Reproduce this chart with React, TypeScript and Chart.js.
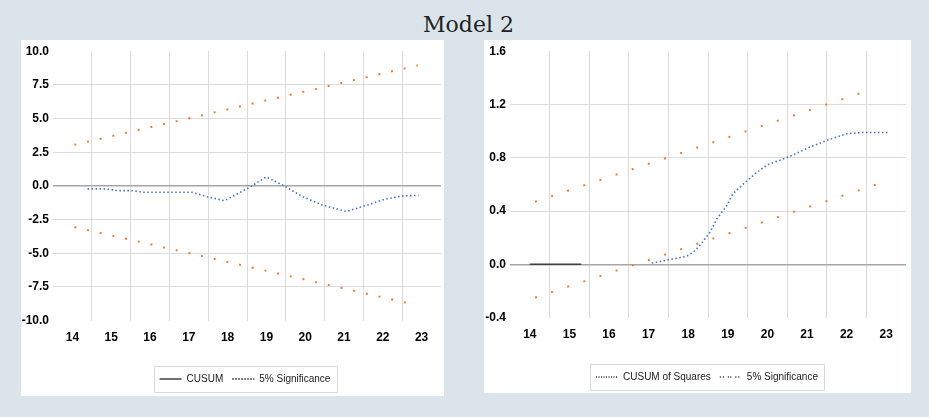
import React, { useEffect, useRef } from "react";
import { Chart, registerables } from "chart.js";

Chart.register(...registerables);

// ---------- Data ----------
// Left panel: CUSUM
const cusumX = [14.39, 14.88, 15.16, 15.52, 15.83, 16.68, 17.07, 17.5, 17.92, 18.54, 19.0, 19.46, 19.9, 20.42, 21.06, 21.63, 22.04, 22.48, 22.92];
const cusumY = [-0.22, -0.22, -0.35, -0.35, -0.47, -0.47, -0.47, -0.82, -1.1, -0.15, 0.67, 0.0, -0.75, -1.4, -1.9, -1.4, -1.0, -0.75, -0.7];
const cusumUpperX = [14.05, 22.9];
const cusumUpperY = [3.05, 8.95];
const cusumLowerX = [14.05, 22.8];
const cusumLowerY = [-3.05, -8.8];

// Right panel: CUSUM of Squares
const sqX = [14.0, 15.3, 16.2, 17.08, 17.6, 17.96, 18.12, 18.29, 18.55, 18.72, 18.97, 19.13, 19.38, 19.73, 20.01, 20.31, 20.64, 21.07, 21.5, 22.0, 22.41, 23.04];
const sqY = [0, 0, null, 0.01, 0.04, 0.06, 0.09, 0.14, 0.24, 0.34, 0.44, 0.53, 0.6, 0.69, 0.75, 0.78, 0.82, 0.88, 0.93, 0.98, 0.99, 0.99];
const sqUpperX = [14.13, 22.6];
const sqUpperY = [0.47, 1.31];
const sqLowerX = [14.13, 22.96];
const sqLowerY = [-0.25, 0.62];

// Axis setup
const xMin = 13.5;
const xMax = 23.5;
const leftYTicks = { min: -10, max: 10, step: 2.5 };
const rightYTicks = { min: -0.4, max: 1.6, step: 0.4 };

const leftLegend = ["CUSUM", "5% Significance"];
const rightLegend = ["CUSUM of Squares", "5% Significance"];
const title = "Model 2";

// ---------- Styles ----------
const BLUE = "#4472C4";
const ORANGE = "#ED7D31";
const tickFont = { family: "'Liberation Sans', Arial, sans-serif", weight: "bold" as const, size: 12 };
const legendFont = { family: "'Liberation Sans', Arial, sans-serif", size: 10 };

const zip = (xs: number[], ys: (number | null)[]) => xs.map((x, i) => ({ x, y: ys[i] }));

const legendBoxPlugin = {
  id: "legendBox",
  afterUpdate(chart: any, _args: any, opts: any) {
    const lg = chart.legend;
    const dy = (opts && opts.dy) || 0;
    const dx = (opts && opts.dx) || 0;
    if (!lg) return;
    lg.top += dy;
    lg.bottom += dy;
    lg.left += dx;
    lg.right += dx;
    (lg.legendHitBoxes || []).forEach((h: any) => {
      h.top += dy;
      h.left += dx;
    });
  },
  afterDraw(chart: any) {
    const lg = chart.legend;
    if (!lg || !lg.legendHitBoxes || !lg.legendHitBoxes.length) return;
    let l = Infinity, r = -Infinity, t = Infinity, b = -Infinity;
    lg.legendHitBoxes.forEach((h: any) => {
      l = Math.min(l, h.left);
      r = Math.max(r, h.left + h.width);
      t = Math.min(t, h.top);
      b = Math.max(b, h.top + h.height);
    });
    const ctx = chart.ctx;
    ctx.save();
    ctx.strokeStyle = "#d9d9d9";
    ctx.lineWidth = 1;
    ctx.beginPath();
    ctx.rect(Math.round(l - 6) + 0.5, Math.round(t - 8) + 0.5, Math.round(r - l + 12), Math.round(b - t + 16));
    ctx.stroke();
    ctx.restore();
  },
};

function makeOptions(
  yCfg: { min: number; max: number; step: number },
  yWidth: number,
  padRight: number,
  legendDx: number,
  legendDy: number,
  legendItems: any[]
) {
  return {
    responsive: false,
    animation: false as const,
    layout: { padding: { top: 5, right: padRight, left: 0, bottom: 12 } },
    plugins: {
      legend: {
        position: "bottom" as const,
        labels: {
          usePointStyle: true,
          pointStyleWidth: 22,
          font: legendFont,
          color: "#222",
          padding: 9,
          generateLabels: () => legendItems,
        },
      },
      legendBox: { dx: legendDx, dy: legendDy },
      tooltip: { enabled: false },
    },
    elements: { point: { radius: 0 } },
    scales: {
      x: {
        type: "linear" as const,
        min: xMin,
        max: xMax,
        afterFit: (s: any) => {
          s.paddingLeft = 0;
          s.paddingRight = 0;
        },
        ticks: {
          stepSize: 0.5,
          autoSkip: false,
          maxRotation: 0,
          font: tickFont,
          color: "#000",
          padding: 10,
          callback: (v: any) => (Number.isInteger(v) ? String(v) : ""),
        },
        grid: {
          drawTicks: false,
          color: (ctx: any) => {
            const v = ctx.tick ? ctx.tick.value : null;
            if (v == null || Number.isInteger(v) || v <= xMin || v >= xMax) return "rgba(0,0,0,0)";
            return "#dcdcdc";
          },
        },
        border: { display: false },
      },
      y: {
        type: "linear" as const,
        min: yCfg.min,
        max: yCfg.max,
        afterFit: (s: any) => {
          s.width = yWidth;
        },
        ticks: {
          stepSize: yCfg.step,
          font: tickFont,
          color: "#000",
          padding: 4,
          callback: (v: any) => Number(v).toFixed(1),
        },
        grid: {
          drawTicks: false,
          color: (ctx: any) => {
            const v = ctx.tick ? ctx.tick.value : null;
            if (v == null) return "rgba(0,0,0,0)";
            if (Math.abs(v) < 1e-9) return "#a6a6a6";
            if (Math.abs(v - yCfg.min) < 1e-9 || Math.abs(v - yCfg.max) < 1e-9) return "rgba(0,0,0,0)";
            return "#dcdcdc";
          },
          lineWidth: (ctx: any) => (ctx.tick && Math.abs(ctx.tick.value) < 1e-9 ? 1.5 : 1),
        },
        border: { display: false },
      },
    },
  };
}

function legendItem(text: string, dash: number[], idx: number) {
  return {
    text,
    fillStyle: "rgba(0,0,0,0)",
    strokeStyle: "#222",
    lineWidth: 1.3,
    lineDash: dash,
    pointStyle: "line",
    fontColor: "#222",
    hidden: false,
    datasetIndex: idx,
  };
}

function leftConfig(): any {
  return {
    type: "line",
    data: {
      datasets: [
        { label: leftLegend[0], data: zip(cusumX, cusumY), borderColor: BLUE, borderWidth: 1.6, borderDash: [1.5, 2.5], tension: 0 },
        { label: leftLegend[1], data: zip(cusumUpperX, cusumUpperY), borderColor: ORANGE, borderWidth: 2, borderDash: [2, 11] },
        { label: "lower", data: zip(cusumLowerX, cusumLowerY), borderColor: ORANGE, borderWidth: 2, borderDash: [2, 11] },
      ],
    },
    options: makeOptions(leftYTicks, 32, 3, 14, 10, [legendItem(leftLegend[0], [], 0), legendItem(leftLegend[1], [1.5, 1.5], 1)]),
    plugins: [legendBoxPlugin],
  };
}

function rightConfig(): any {
  return {
    type: "line",
    data: {
      datasets: [
        {
          label: rightLegend[0],
          data: zip(sqX, sqY),
          borderColor: BLUE,
          borderWidth: 1.6,
          borderDash: [1.5, 2.5],
          spanGaps: false,
          segment: {
            borderColor: (ctx: any) => (ctx.p1.parsed.x <= 15.35 ? "#404040" : undefined),
            borderDash: (ctx: any) => (ctx.p1.parsed.x <= 15.35 ? [] : undefined),
          },
        },
        { label: rightLegend[1], data: zip(sqUpperX, sqUpperY), borderColor: ORANGE, borderWidth: 2, borderDash: [2, 15] },
        { label: "lower", data: zip(sqLowerX, sqLowerY), borderColor: ORANGE, borderWidth: 2, borderDash: [2, 15] },
      ],
    },
    options: makeOptions(rightYTicks, 26, 5, 12, 11, [legendItem(rightLegend[0], [1, 1.5], 0), legendItem(rightLegend[1], [1, 2, 1, 4, 1, 1.5, 1, 4], 1)]),
    plugins: [legendBoxPlugin],
  };
}

function ChartPanel({ config, width, height }: { config: () => any; width: number; height: number }) {
  const ref = useRef<HTMLCanvasElement>(null);
  useEffect(() => {
    const chart = new Chart(ref.current as HTMLCanvasElement, config());
    return () => chart.destroy();
  }, []);
  return <canvas ref={ref} width={width} height={height} style={{ display: "block", width, height }} />;
}

export default function App() {
  return (
    <div style={{ position: "absolute", left: 0, top: 0, width: 929, height: 417, background: "#dbe4eb", overflow: "hidden" }}>
      <div
        style={{
          position: "absolute",
          left: 0,
          top: 12,
          width: 937,
          textAlign: "center",
          fontFamily: "'DejaVu Serif', serif",
          fontSize: 22,
          lineHeight: "26px",
          color: "#222",
        }}
      >
        {title}
      </div>
      <div style={{ position: "absolute", left: 21, top: 40, width: 423, height: 356, background: "#fff" }}>
        <ChartPanel config={leftConfig} width={423} height={356} />
      </div>
      <div style={{ position: "absolute", left: 484, top: 40, width: 427, height: 353, background: "#fff" }}>
        <ChartPanel config={rightConfig} width={427} height={353} />
      </div>
    </div>
  );
}
